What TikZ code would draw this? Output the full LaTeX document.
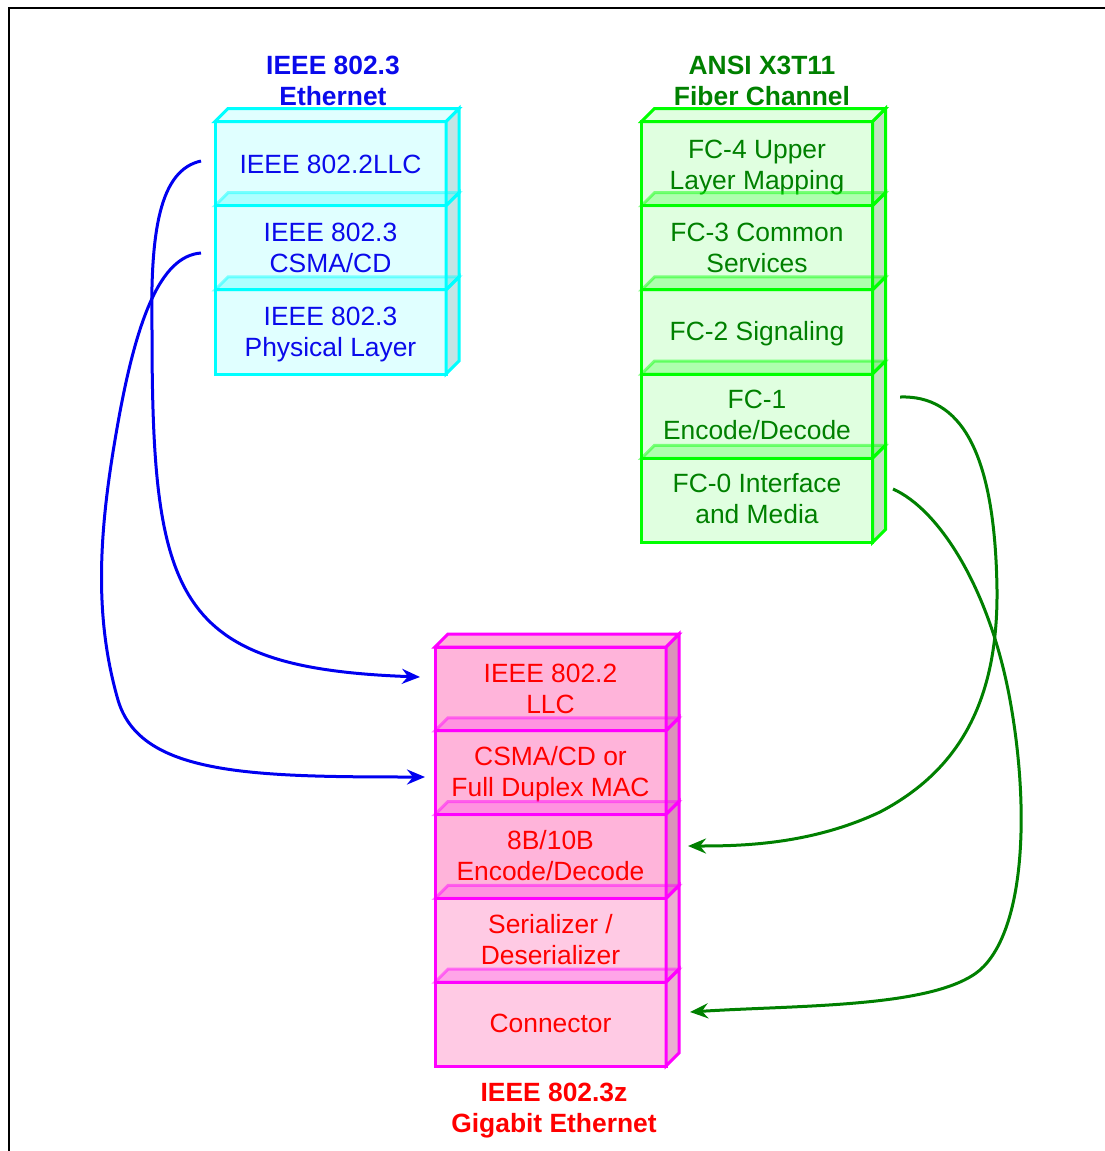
\documentclass[tikz,border=0pt]{standalone}
\usepackage{fontspec}
\setmainfont{Liberation Sans}
\usetikzlibrary{arrows.meta,calc}
\definecolor{bluebd}{RGB}{0,255,255}
\definecolor{bluefront}{RGB}{224,255,255}
\definecolor{blueside}{RGB}{196,228,228}
\definecolor{bluetxt}{RGB}{10,10,235}
\definecolor{greenbd}{RGB}{0,255,0}
\definecolor{greenfront}{RGB}{224,255,224}
\definecolor{greenside}{RGB}{194,226,194}
\definecolor{greentxt}{RGB}{0,128,0}
\definecolor{magbd}{RGB}{255,0,255}
\definecolor{magfrontA}{RGB}{255,180,218}
\definecolor{magfrontB}{RGB}{255,202,228}
\definecolor{magsideA}{RGB}{218,146,186}
\definecolor{magsideB}{RGB}{234,176,208}
\definecolor{magtxt}{RGB}{255,0,0}
\definecolor{bluearrow}{RGB}{0,0,240}
\definecolor{greenarrow}{RGB}{0,128,0}

% #1 name, #2 centre, #3 front style, #4 side style, #5 top style, #6 text, #7 text shift
\newcommand{\drawlayer}[7]{%
  \node[#3] (#1) at #2 {};
  \draw[#4] (#1.north east) -- ++(13,-13) -- ($(#1.south east)+(13,-13)$) -- (#1.south east) -- cycle;
  \draw[#5] (#1.north west) -- ++(13,-13) -- ($(#1.north east)+(13,-13)$) -- (#1.north east) -- cycle;
  \node[#3,draw=none,fill=none,minimum width=0pt,minimum height=0pt] (#1t) at ($(#1.center)+(0,#7)$) {#6};
}

\begin{document}
\begin{tikzpicture}[x=1pt,y=-1pt,line join=miter,
  txt/.style={font=\fontsize{26.4}{31}\selectfont,align=center},
  ttl/.style={font=\fontsize{26.4}{31}\selectfont\bfseries,align=center},
  layer/.style={txt,minimum width=231pt,minimum height=84.2pt,inner sep=0pt,outer sep=0pt,line width=3pt},
  bfront/.style={layer,fill=bluefront,draw=bluebd,text=bluetxt},
  gfront/.style={layer,fill=greenfront,draw=greenbd,text=greentxt},
  mfrontA/.style={layer,fill=magfrontA,draw=magbd,text=magtxt,minimum height=83.8pt},
  mfrontB/.style={layer,fill=magfrontB,draw=magbd,text=magtxt,minimum height=83.8pt},
  bside/.style={fill=blueside,draw=bluebd,line width=3pt},
  gside/.style={fill=greenside,draw=greenbd,line width=3pt},
  msideA/.style={fill=magsideA,draw=magbd,line width=3pt},
  msideB/.style={fill=magsideB,draw=magbd,line width=3pt},
  btopF/.style={fill=bluefront,draw=bluebd,line width=3pt},
  gtopF/.style={fill=greenfront,draw=greenbd,line width=3pt},
  mtopF/.style={fill=magfrontA,draw=magbd,line width=3pt},
  btopM/.style={fill=bluebd,fill opacity=0.22,draw=bluebd,draw opacity=0.45,line width=3pt},
  gtopM/.style={fill=greenbd,fill opacity=0.22,draw=greenbd,draw opacity=0.45,line width=3pt},
  mtopM/.style={fill=magbd,fill opacity=0.18,draw=magbd,draw opacity=0.45,line width=3pt},
  bconn/.style={draw=bluearrow,line width=3pt,-{Stealth[length=18pt,width=15pt,inset=6pt]}},
  gconn/.style={draw=greenarrow,line width=3pt,-{Stealth[length=18pt,width=15pt,inset=6pt]}}
]
\useasboundingbox (0,0) rectangle (1105,1151);
\draw[line width=2.2pt] (9,1152) -- (9,8) -- (1106,8);

% titles
\node[ttl,text=bluetxt] (tb) at (333,81) {IEEE 802.3\\Ethernet};
\node[ttl,text=greentxt] (tg) at (762,81) {ANSI X3T11\\Fiber Channel};
\node[ttl,text=magtxt] (tm) at (554,1110.5) {IEEE 802.3z\\Gigabit Ethernet};

% blue stack
\drawlayer{b1}{(330.5,163.6)}{bfront}{bside}{btopF}{IEEE 802.2LLC}{1}
\drawlayer{b2}{(330.5,247.8)}{bfront}{bside}{btopM}{IEEE 802.3\\CSMA/CD}{0}
\drawlayer{b3}{(330.5,332.0)}{bfront}{bside}{btopM}{IEEE 802.3\\Physical Layer}{2.5}

% green stack
\drawlayer{g1}{(757,163.6)}{gfront}{gside}{gtopF}{FC-4 Upper\\Layer Mapping}{4}
\drawlayer{g2}{(757,247.8)}{gfront}{gside}{gtopM}{FC-3 Common\\Services}{0}
\drawlayer{g3}{(757,332.0)}{gfront}{gside}{gtopM}{FC-2 Signaling}{2}
\drawlayer{g4}{(757,416.2)}{gfront}{gside}{gtopM}{FC-1\\Encode/Decode}{-1}
\drawlayer{g5}{(757,500.4)}{gfront}{gside}{gtopM}{FC-0 Interface\\and Media}{-2}

% magenta stack
\drawlayer{m1}{(550.5,688.9)}{mfrontA}{msideA}{mtopF}{IEEE 802.2\\LLC}{0}
\drawlayer{m2}{(550.5,772.7)}{mfrontA}{msideA}{mtopM}{CSMA/CD or\\Full Duplex MAC}{1.5}
\drawlayer{m3}{(550.5,856.5)}{mfrontA}{msideA}{mtopM}{8B/10B\\Encode/Decode}{-1}
\drawlayer{m4}{(550.5,940.3)}{mfrontB}{msideB}{mtopM}{Serializer /\\Deserializer}{-1}
\drawlayer{m5}{(550.5,1024.1)}{mfrontB}{msideB}{mtopM}{Connector}{-1}

% connector end points
\coordinate (b1s) at (201,161);
\coordinate (b1e) at (420,677);
\coordinate (b2s) at (201,253);
\coordinate (b2e) at (425,777);
\coordinate (g1s) at (900,397);
\coordinate (g1e) at (688,846);
\coordinate (g2s) at (893,489);
\coordinate (g2e) at (690,1012);

\draw[bconn] (b1s) .. controls (160,170) and (150,230) .. (152,330)
  .. controls (152,600) and (175,668) .. (b1e);
\draw[bconn] (b2s) .. controls (160,256) and (135,320) .. (115,440)
  .. controls (98,540) and (95,620) .. (118,700)
  .. controls (140,775) and (250,777) .. (b2e);
\draw[gconn] (g1s) .. controls (960,395) and (995,450) .. (997,590)
  .. controls (998,700) and (960,770) .. (880,812)
  .. controls (810,845) and (740,846) .. (g1e);
\draw[gconn] (g2s) .. controls (940,510) and (990,590) .. (1010,700)
  .. controls (1030,810) and (1025,930) .. (980,970)
  .. controls (935,1008) and (800,1005) .. (g2e);
\end{tikzpicture}
\end{document}
